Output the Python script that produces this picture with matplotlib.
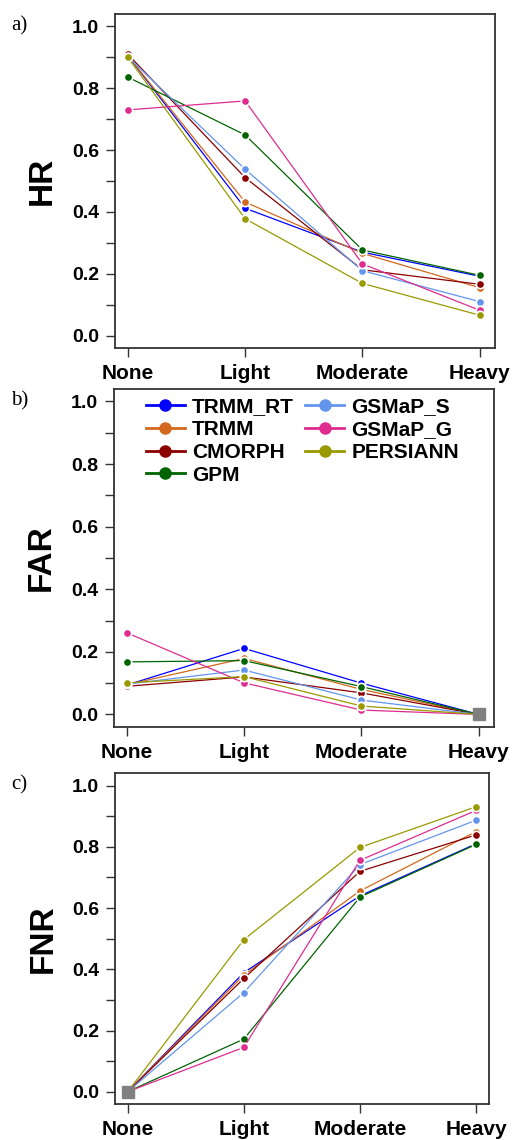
import numpy as np
import matplotlib
matplotlib.use("Agg")
import matplotlib.pyplot as plt

categories = ['None', 'Light', 'Moderate', 'Heavy']
products = ['TRMM_RT', 'TRMM', 'CMORPH', 'GPM', 'GSMaP_S', 'GSMaP_G', 'PERSIANN']
colors = ['#0000FF', '#D2691E', '#8B0000', '#006400', '#6495ED', '#DE2D8F', '#999900']

# hit rate
hr_trmm_rt = [0.905, 0.412, 0.270, 0.192]
hr_trmm = [0.905, 0.432, 0.266, 0.155]
hr_cmorph = [0.910, 0.511, 0.213, 0.166]
hr_gpm = [0.836, 0.649, 0.277, 0.195]
hr_gsmap_s = [0.902, 0.538, 0.210, 0.110]
hr_gsmap_g = [0.730, 0.759, 0.232, 0.082]
hr_persiann = [0.900, 0.378, 0.169, 0.066]

# false alarm ratio
far_trmm_rt = [0.094, 0.211, 0.100, 0.0]
far_trmm = [0.095, 0.179, 0.080, 0.0]
far_cmorph = [0.090, 0.120, 0.069, 0.0]
far_gpm = [0.168, 0.172, 0.089, 0.0]
far_gsmap_s = [0.097, 0.142, 0.046, 0.0]
far_gsmap_g = [0.261, 0.101, 0.014, 0.0]
far_persiann = [0.101, 0.121, 0.027, 0.0]

# false negative rate
fnr_trmm_rt = [0.0, 0.389, 0.640, 0.810]
fnr_trmm = [0.0, 0.381, 0.656, 0.850]
fnr_cmorph = [0.0, 0.370, 0.720, 0.839]
fnr_gpm = [0.0, 0.172, 0.636, 0.808]
fnr_gsmap_s = [0.0, 0.324, 0.742, 0.887]
fnr_gsmap_g = [0.0, 0.145, 0.756, 0.919]
fnr_persiann = [0.0, 0.497, 0.798, 0.931]

panels = [
    ('a)', 'HR', [hr_trmm_rt, hr_trmm, hr_cmorph, hr_gpm, hr_gsmap_s, hr_gsmap_g, hr_persiann]),
    ('b)', 'FAR', [far_trmm_rt, far_trmm, far_cmorph, far_gpm, far_gsmap_s, far_gsmap_g, far_persiann]),
    ('c)', 'FNR', [fnr_trmm_rt, fnr_trmm, fnr_cmorph, fnr_gpm, fnr_gsmap_s, fnr_gsmap_g, fnr_persiann]),
]

plt.rcParams['font.family'] = ['Liberation Sans', 'DejaVu Sans']
plt.rcParams['font.weight'] = 'bold'

fig = plt.figure(figsize=(5.13, 11.4), dpi=100)
# [left, bottom, width, height] in figure fraction, from pixel positions
boxes = [
    [0.224, 0.6947, 0.741, 0.293],
    [0.222, 0.3623, 0.741, 0.2965],
    [0.224, 0.0316, 0.729, 0.290],
]

x = np.arange(len(categories))
for k, (tag, ylab, series) in enumerate(panels):
    ax = fig.add_axes(boxes[k])
    for name, vals, c in zip(products, series, colors):
        ax.plot(x, vals, '-o', color=c, lw=0.9, ms=6, mfc=c, mec='white',
                mew=1.2, label=name)
    # grey square where all products share the same value
    arr = np.array(series)
    for j in range(len(categories)):
        if np.allclose(arr[:, j], arr[0, j]):
            ax.plot(x[j], arr[0, j], 's', color='#808080', ms=9, zorder=5)

    ax.set_xlim(-0.11, 3.13 if k < 2 else 3.11)
    ax.set_ylim(-0.04, 1.04)
    ax.set_xticks(x)
    ax.set_xticklabels(categories, fontsize=15, fontweight='bold')
    ax.set_yticks(np.arange(0, 1.01, 0.2))
    ax.set_yticklabels(['%.1f' % v for v in np.arange(0, 1.01, 0.2)],
                       fontsize=14, fontweight='bold')
    ax.set_yticks(np.arange(0.1, 1.0, 0.2), minor=True)
    ax.tick_params(axis='both', which='major', length=6.5, width=1.0, pad=5,
                   color='#333333')
    ax.tick_params(axis='y', which='minor', length=6.5, width=1.0, color='#333333')
    for sp in ax.spines.values():
        sp.set_linewidth(1.3)
        sp.set_color('#333333')
    ax.set_ylabel(ylab, fontsize=24, fontweight='bold')
    ax.yaxis.set_label_coords(-0.15, 0.5)
    fig.text(0.022, boxes[k][1] + boxes[k][3] - 0.002, tag, fontsize=15,
             family=['Liberation Serif', 'DejaVu Serif'], fontweight='normal',
             va='top', ha='left')

    if k == 1:
        leg = ax.legend(ncol=2, loc='upper left', bbox_to_anchor=(0.085, 0.975),
                        frameon=False, fontsize=15, handlelength=1.85,
                        handletextpad=0.35, columnspacing=0.55,
                        labelspacing=0.18, borderpad=0, borderaxespad=0,
                        markerscale=1.3)
        for h in leg.legend_handles:
            h.set_linewidth(2.0)
            h.set_markeredgecolor(h.get_color())
        for t in leg.get_texts():
            t.set_fontweight('bold')

fig.savefig('out.png', dpi=100)
